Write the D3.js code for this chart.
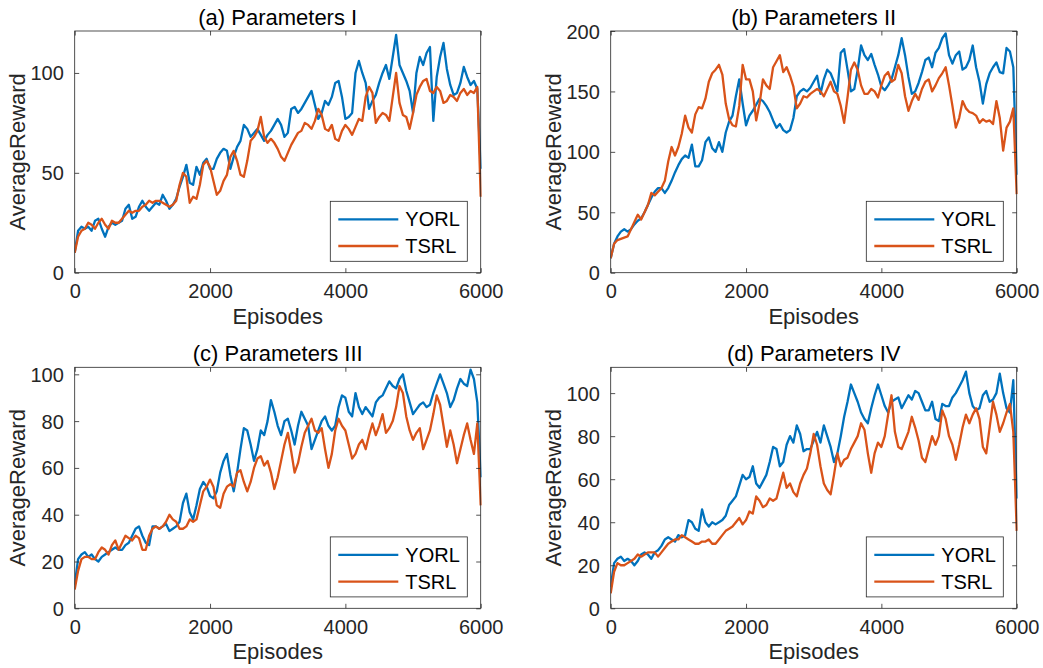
<!DOCTYPE html>
<html>
<head>
<meta charset="utf-8">
<script src="https://cdn.jsdelivr.net/npm/d3@7"></script>
<style>
  html, body { margin: 0; padding: 0; background: #ffffff; }
  svg { display: block; }
  text { font-family: "Liberation Sans", Arial, Helvetica, sans-serif; }
</style>
</head>
<body>
<svg id="chart" width="1043" height="668"></svg>
<script>
// ---------------- DATA ----------------
const episodeStep = 50;
const episodes = d3.range(0, 6001, episodeStep);
const xTicks = [0, 2000, 4000, 6000];
const seriesNames = ["YORL", "TSRL"];
const panelTitles = ["(a) Parameters I", "(b) Parameters II", "(c) Parameters III", "(d) Parameters IV"];
const xLabel = "Episodes";
const yLabel = "AverageReward";

const yTicksA = [0, 50, 100];
const yTicksB = [0, 50, 100, 150, 200];
const yTicksC = [0, 20, 40, 60, 80, 100];
const yTicksD = [0, 20, 40, 60, 80, 100];
const yMaxA = 121, yMaxB = 200, yMaxC = 103, yMaxD = 112;

const yorlA = [
  10,21,23,22,23,21,26,27,22,18,
  23,25,24,25,26,32,34,27,28,33,
  36,33,31,33,35,34,39,36,32,34,
  37,43,48,54,45,44,53,49,55,57,
  52,52,57,60,62,61,52,58,63,66,
  74,72,68,70,72,69,66,69,71,74,
  77,74,68,70,82,83,80,82,85,88,
  91,84,77,80,86,84,88,95,96,88,
  77,78,80,100,106,100,95,82,86,89,
  95,100,104,97,108,119,104,100,96,91,
  80,100,108,104,110,113,76,98,108,115,
  102,94,89,90,95,103,98,94,96,92,
  52];
const tsrlA = [
  10,18,21,22,25,24,22,25,27,24,
  22,26,25,25,27,29,31,30,31,31,
  33,34,36,35,36,36,35,34,33,34,
  36,44,50,48,35,38,37,44,54,56,
  53,46,39,41,46,49,58,61,56,49,
  48,56,66,68,71,78,68,65,67,65,
  62,58,56,60,64,67,70,71,75,74,
  72,76,82,79,72,71,74,67,66,71,
  74,72,69,73,77,76,88,93,90,75,
  78,80,79,76,88,100,85,79,78,72,
  80,89,93,96,97,91,90,93,91,85,
  86,89,88,86,90,92,89,91,90,93,
  38];

const yorlB = [
  12,24,30,34,36,34,36,40,43,45,
  50,56,62,67,70,70,66,70,76,83,
  89,94,97,95,106,88,88,93,108,112,
  103,100,108,100,116,125,130,146,160,140,
  122,130,134,139,144,142,138,133,126,120,
  123,118,116,118,128,146,150,152,150,153,
  158,163,148,160,168,165,158,150,182,185,
  168,150,152,168,188,180,176,181,172,164,
  154,151,155,160,170,180,194,180,162,148,
  150,157,166,176,178,170,182,186,194,198,
  180,173,180,183,168,170,176,188,170,158,
  140,156,165,170,174,166,165,186,183,170,
  81];
const tsrlB = [
  12,24,27,28,29,30,36,42,48,44,
  50,56,66,64,67,70,76,92,104,97,
  104,115,130,120,116,131,137,136,144,158,
  165,168,172,164,140,127,122,121,138,172,
  160,160,150,126,140,160,155,152,170,175,
  180,166,170,163,154,136,140,146,145,148,
  150,152,150,146,152,158,150,148,138,124,
  145,168,174,168,155,148,148,152,150,145,
  155,163,166,158,160,172,165,146,134,142,
  148,143,152,158,160,150,155,161,165,170,
  155,138,120,128,142,136,133,132,130,124,
  127,125,126,123,142,128,101,120,125,136,
  65];

const yorlC = [
  10,21,23,24,22,23,21,20,22,23,
  24,25,26,25,25,27,28,31,34,35,
  31,28,27,35,35,34,35,36,33,34,
  35,37,45,49,41,38,44,51,54,52,
  48,47,50,58,63,66,57,50,58,68,
  77,76,70,63,68,76,74,80,89,84,
  78,74,80,81,76,70,78,84,81,78,
  68,72,76,80,82,78,76,78,86,91,
  90,84,82,92,86,83,86,84,82,88,
  90,91,94,97,95,94,98,100,93,88,
  83,85,87,88,86,87,92,96,100,96,
  92,86,89,94,98,96,95,102,98,88,
  56];
const tsrlC = [
  8,16,21,22,22,21,21,24,26,25,
  23,27,29,25,28,31,30,29,31,30,
  25,25,31,34,35,34,35,37,40,38,
  37,34,34,35,38,37,38,44,50,52,
  55,52,44,43,49,52,53,52,58,59,
  54,50,54,60,64,65,61,63,58,51,
  56,63,70,75,67,58,62,69,75,78,
  81,76,75,77,68,60,66,76,81,78,
  76,70,64,66,70,72,68,74,79,74,
  78,83,75,77,80,86,95,92,82,76,
  72,75,77,68,72,76,83,91,87,78,
  69,76,70,62,68,74,79,72,66,79,
  44];

const yorlD = [
  10,21,23,24,22,23,22,20,22,25,
  26,25,23,26,27,29,32,33,32,31,
  34,33,34,41,40,37,36,46,40,38,
  40,39,40,41,43,48,50,52,57,62,
  60,61,66,58,56,59,62,68,75,74,
  66,68,76,80,77,85,81,73,74,74,
  78,82,77,85,80,75,68,72,80,89,
  96,104,100,96,91,88,86,93,99,104,
  99,94,91,96,97,98,93,96,99,97,
  101,100,96,92,92,96,88,87,95,94,
  94,98,100,103,106,110,100,94,92,93,
  99,101,96,97,100,109,100,93,91,106,
  51];
const tsrlD = [
  7,17,21,20,20,21,22,23,25,24,
  25,26,26,26,24,26,28,30,31,32,
  32,34,33,32,31,30,30,31,31,32,
  30,30,32,34,36,37,38,40,42,39,
  41,45,44,52,50,47,48,51,50,51,
  57,63,56,58,54,52,58,62,65,72,
  81,76,66,58,55,53,62,72,66,69,
  70,74,77,80,86,83,72,63,72,77,
  75,80,90,99,82,75,74,78,82,89,
  84,78,70,68,74,80,76,80,92,88,
  80,76,69,76,84,90,86,90,93,88,
  75,72,84,96,90,82,86,91,95,82,
  36];

// ---------------- LAYOUT / STYLE ----------------
const colors = ["#0072BD", "#D95319"];
const axisColor = "#262626";
const panels = [
  { title: panelTitles[0], series: [yorlA, tsrlA], yMax: yMaxA, yTicks: yTicksA, left: 74.7, top: 31, right: 480.7, bottom: 272.7 },
  { title: panelTitles[1], series: [yorlB, tsrlB], yMax: yMaxB, yTicks: yTicksB, left: 610.7, top: 31, right: 1016.7, bottom: 272.7 },
  { title: panelTitles[2], series: [yorlC, tsrlC], yMax: yMaxC, yTicks: yTicksC, left: 74.7, top: 367.3, right: 480.7, bottom: 608.3 },
  { title: panelTitles[3], series: [yorlD, tsrlD], yMax: yMaxD, yTicks: yTicksD, left: 610.7, top: 367.3, right: 1016.7, bottom: 608.3 }
];

const svg = d3.select("#chart");
svg.append("rect").attr("width", 1043).attr("height", 668).attr("fill", "#fff");

const tickLen = 4.5;
const fmt = d3.format("d");

panels.forEach((p, pi) => {
  const w = p.right - p.left;
  const h = p.bottom - p.top;
  const g = svg.append("g").attr("transform", `translate(${p.left},${p.top})`);

  const x = d3.scaleLinear().domain([0, 6000]).range([0, w]);
  const y = d3.scaleLinear().domain([0, p.yMax]).range([h, 0]);

  const clipId = "clip" + pi;
  g.append("clipPath").attr("id", clipId)
    .append("rect").attr("x", 0).attr("y", -1).attr("width", w + 1).attr("height", h + 2);

  // data lines
  const line = d3.line().x((d, i) => x(episodes[i])).y(d => y(d));
  p.series.forEach((s, si) => {
    g.append("path")
      .datum(s)
      .attr("clip-path", `url(#${clipId})`)
      .attr("fill", "none")
      .attr("stroke", colors[si])
      .attr("stroke-width", 2.3)
      .attr("stroke-linejoin", "round")
      .attr("d", line);
  });

  const fontSize = 20;
  const bottomAxis = d3.axisBottom(x).tickValues(xTicks).tickFormat(fmt).tickSizeInner(-tickLen).tickSizeOuter(0).tickPadding(tickLen + 7);
  const topAxis = d3.axisTop(x).tickValues(xTicks).tickSizeInner(-tickLen).tickSizeOuter(0).tickFormat("");
  const leftAxis = d3.axisLeft(y).tickValues(p.yTicks).tickFormat(fmt).tickSizeInner(-tickLen).tickSizeOuter(0).tickPadding(tickLen + 6.4);
  const rightAxis = d3.axisRight(y).tickValues(p.yTicks).tickSizeInner(-tickLen).tickSizeOuter(0).tickFormat("");

  const styleAxis = sel => {
    sel.select(".domain").remove();
    sel.selectAll(".tick line").attr("stroke", axisColor).attr("stroke-width", 0.8);
    sel.selectAll(".tick text").attr("fill", axisColor)
      .style("font-size", fontSize + "px")
      .style("font-family", '"Liberation Sans", Arial, Helvetica, sans-serif');
  };

  g.append("g").attr("transform", `translate(0,${h})`).call(bottomAxis).call(styleAxis)
    .selectAll(".tick text").attr("dy", "0.71em");
  g.append("g").call(topAxis).call(styleAxis);
  g.append("g").call(leftAxis).call(styleAxis)
    .selectAll(".tick text").attr("dy", "0.35em");
  g.append("g").attr("transform", `translate(${w},0)`).call(rightAxis).call(styleAxis);

  // box
  g.append("rect")
    .attr("x", 0).attr("y", 0).attr("width", w).attr("height", h)
    .attr("fill", "none").attr("stroke", axisColor).attr("stroke-width", 0.8);

  // title
  g.append("text")
    .attr("x", w / 2).attr("y", -6)
    .attr("text-anchor", "middle")
    .attr("fill", "#000")
    .style("font-size", "22px")
    .text(p.title);

  // x label
  g.append("text")
    .attr("x", w / 2).attr("y", h + 51)
    .attr("text-anchor", "middle")
    .attr("fill", axisColor)
    .style("font-size", "22px")
    .text(xLabel);

  // y label
  g.append("text")
    .attr("transform", `translate(-50,${h / 2}) rotate(-90)`)
    .attr("text-anchor", "middle")
    .attr("fill", axisColor)
    .style("font-size", "22px")
    .text(yLabel);

  // legend
  const lw = 137, lh = 60;
  const lx = w - 13.4 - lw, ly = h - 11.4 - lh;
  const lg = g.append("g").attr("transform", `translate(${lx},${ly})`);
  lg.append("rect").attr("width", lw).attr("height", lh)
    .attr("fill", "#fff").attr("stroke", axisColor).attr("stroke-width", 0.8);
  seriesNames.forEach((name, si) => {
    const ry = si === 0 ? 18 : 44.7;
    lg.append("line").attr("x1", 8).attr("x2", 68).attr("y1", ry).attr("y2", ry)
      .attr("stroke", colors[si]).attr("stroke-width", 2.3);
    lg.append("text").attr("x", 75).attr("y", ry).attr("dy", "0.36em")
      .attr("fill", "#000")
      .style("font-size", "20px")
      .text(name);
  });
});
</script>
</body>
</html>
